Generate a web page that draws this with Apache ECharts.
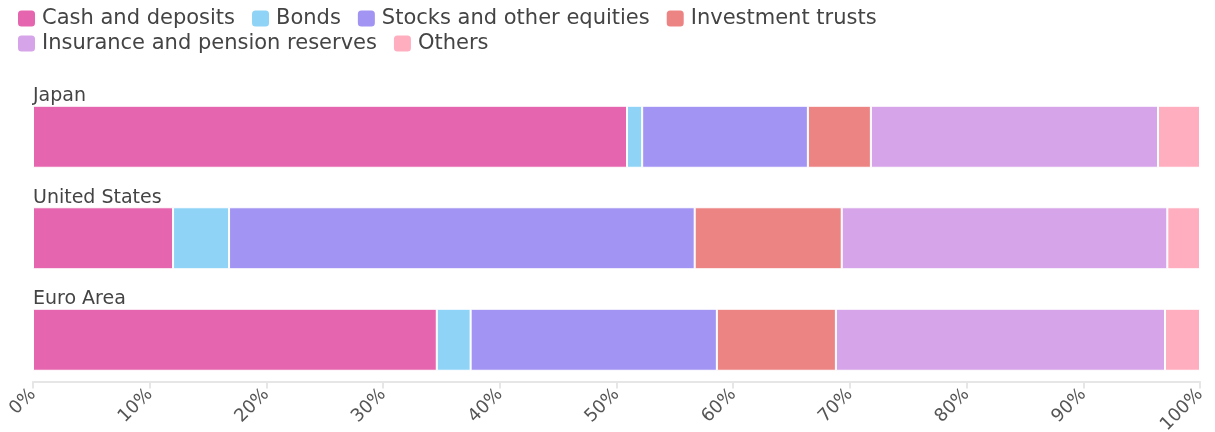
<!DOCTYPE html>
<html>
<head>
<meta charset="utf-8">
<script src="https://cdn.jsdelivr.net/npm/echarts@6/dist/echarts.min.js"></script>
<style>
  html, body { margin: 0; padding: 0; background: #fff; }
  #chart { width: 1215px; height: 432px; }
</style>
</head>
<body>
<div id="chart"></div>
<script>
var regions = ['Japan', 'United States', 'Euro Area'];
var cashDeposits = [50.9, 12.0, 34.6];
var bonds = [1.3, 4.8, 2.9];
var stocksEquities = [14.2, 39.9, 21.1];
var investmentTrusts = [5.4, 12.6, 10.2];
var insurancePension = [24.6, 27.9, 28.2];
var others = [3.6, 2.8, 3.0];
var xTicks = [0, 10, 20, 30, 40, 50, 60, 70, 80, 90, 100];

var seriesNames = ['Cash and deposits', 'Bonds', 'Stocks and other equities',
  'Investment trusts', 'Insurance and pension reserves', 'Others'];
var seriesData = [cashDeposits, bonds, stocksEquities, investmentTrusts, insurancePension, others];
var colors = ['#e566ae', '#8fd4f7', '#a294f2', '#ec8484', '#d6a4e8', '#ffaebf'];

var chart = echarts.init(document.getElementById('chart'));

var series = [];
for (var i = 0; i < seriesNames.length; i++) {
  series.push({
    name: seriesNames[i],
    type: 'bar',
    stack: 'total',
    barWidth: 62,
    itemStyle: { color: colors[i], borderColor: '#fff', borderWidth: 1 },
    data: seriesData[i]
  });
}

chart.setOption({
  animation: false,
  color: colors,
  textStyle: { fontFamily: 'DejaVu Sans' },
  legend: {
    left: 11,
    top: 3,
    width: 1100,
    icon: 'roundRect',
    itemWidth: 19,
    itemHeight: 18,
    itemGap: 4,
    textStyle: { color: '#444', fontSize: 21, lineHeight: 18, padding: [0, 11, 0, 1] },
    data: seriesNames
  },
  grid: { left: 33, right: 15, top: 86, height: 304.5, outerBoundsMode: 'none' },
  xAxis: {
    type: 'value',
    min: 0,
    max: 100,
    interval: 10,
    offset: -9,
    axisLine: { show: true, lineStyle: { color: '#e6e6e6', width: 2 } },
    axisTick: { show: true, length: 7, lineStyle: { color: '#e6e6e6', width: 2 } },
    splitLine: { show: false },
    axisLabel: {
      rotate: 45,
      color: '#555',
      fontSize: 18,
      margin: 10,
      formatter: function (v) { return xTicks.indexOf(v) >= 0 ? v + '%' : ''; }
    }
  },
  yAxis: {
    type: 'category',
    inverse: true,
    data: regions,
    axisLine: { show: false },
    axisTick: { show: false },
    axisLabel: {
      inside: true,
      margin: 0,
      align: 'left',
      verticalAlign: 'bottom',
      padding: [0, 0, 31, 0],
      color: '#444',
      fontSize: 19
    }
  },
  series: series
});
</script>
</body>
</html>
